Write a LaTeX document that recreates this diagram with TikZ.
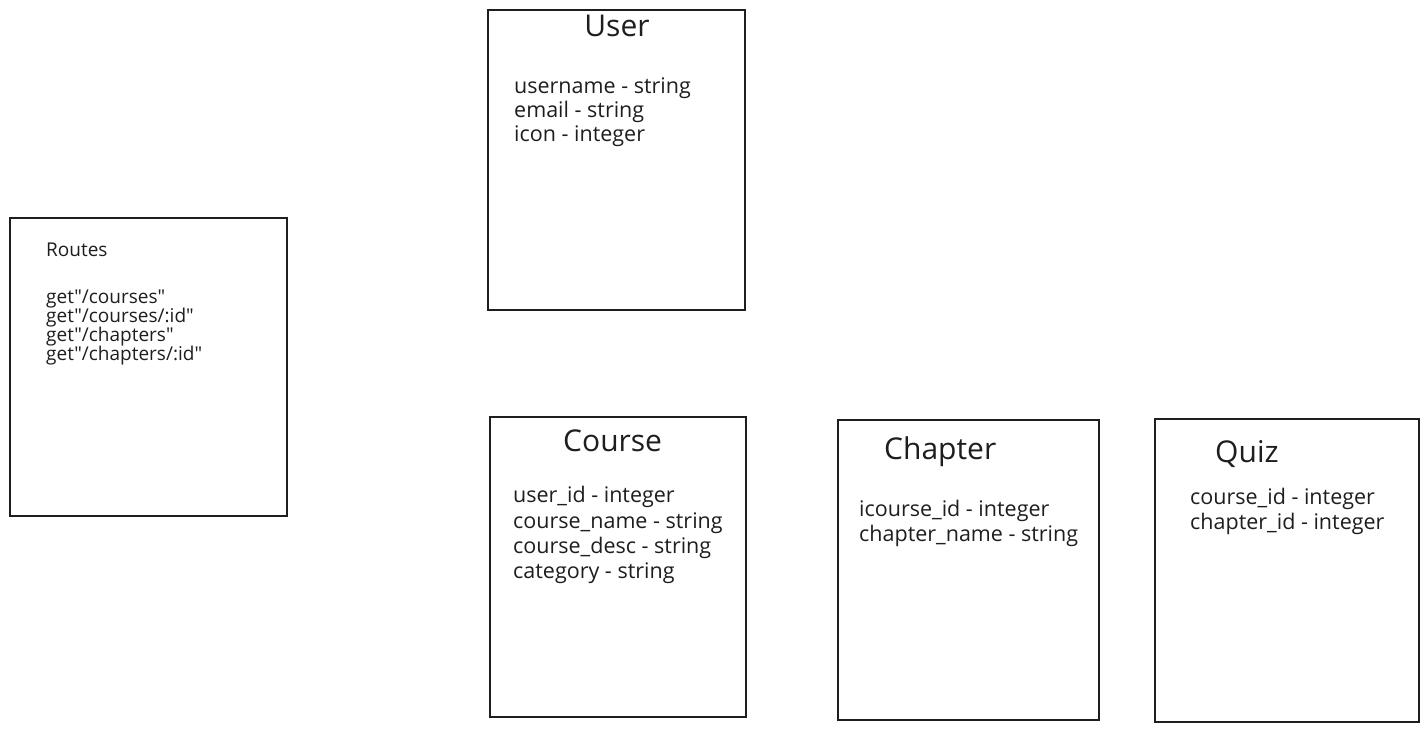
\documentclass[tikz,border=0pt]{standalone}
\usepackage{fontspec}
\setmainfont{Open Sans}
\newfontfamily\rfont{Open Sans}[Ligatures=TeXOff]
\definecolor{ink}{HTML}{1E1E1E}
\begin{document}
\begin{tikzpicture}[x=1pt,y=-1pt,
  box/.style={draw=ink, line width=1.3pt, inner sep=0pt, outer sep=0pt},
  ttl/.style={text=ink, inner sep=0pt, anchor=west, font=\fontsize{30}{34}\selectfont, text height=0.75em, text depth=0.25em},
  fld/.style={text=ink, inner sep=0pt, anchor=west, font=\fontsize{21.5}{25}\selectfont, text height=0.75em, text depth=0.25em},
  sml/.style={text=ink, inner sep=0pt, anchor=west, font=\rfont\fontsize{19}{22}\selectfont, text height=0.75em, text depth=0.25em}]
\useasboundingbox (0,0) rectangle (1428,732);
\fill[white] (0,0) rectangle (1428,732);
% boxes
\node[box, minimum width=277pt, minimum height=298pt] (routes) at (148.5,367) {};
\node[box, minimum width=257pt, minimum height=300pt] (user) at (616.5,160) {};
\node[box, minimum width=256pt, minimum height=300pt] (course) at (618,567) {};
\node[box, minimum width=261pt, minimum height=300pt] (chapter) at (968.5,570) {};
\node[box, minimum width=264pt, minimum height=303pt] (quiz) at (1287,570.5) {};
% Routes
\node[sml] (rt) at (46,254) {Routes};
\node[sml] (r1) at (46,301) {get"/courses"};
\node[sml] (r2) at (46,320) {get"/courses/:id"};
\node[sml] (r3) at (46,339) {get"/chapters"};
\node[sml] (r4) at (46,358) {get"/chapters/:id"};
% User
\node[ttl, anchor=center] (ut) at (617,34) {User};
\node[fld] (u1) at (514,91) {username - string};
\node[fld] (u2) at (514,115) {email - string};
\node[fld] (u3) at (514,139) {icon - integer};
% Course
\node[ttl] (ct) at (563,449) {Course};
\node[fld] (c1) at (513,500) {user\_id - integer};
\node[fld] (c2) at (513,526) {course\_name - string};
\node[fld] (c3) at (513,551) {course\_desc - string};
\node[fld] (c4) at (513,576) {category - string};
% Chapter
\node[ttl] (cht) at (884,457) {Chapter};
\node[fld] (ch1) at (859,514) {icourse\_id - integer};
\node[fld] (ch2) at (859,539) {chapter\_name - string};
% Quiz
\node[ttl] (qt) at (1215,460) {Quiz};
\node[fld] (q1) at (1190,502) {course\_id - integer};
\node[fld] (q2) at (1190,527) {chapter\_id - integer};
\end{tikzpicture}
\end{document}
